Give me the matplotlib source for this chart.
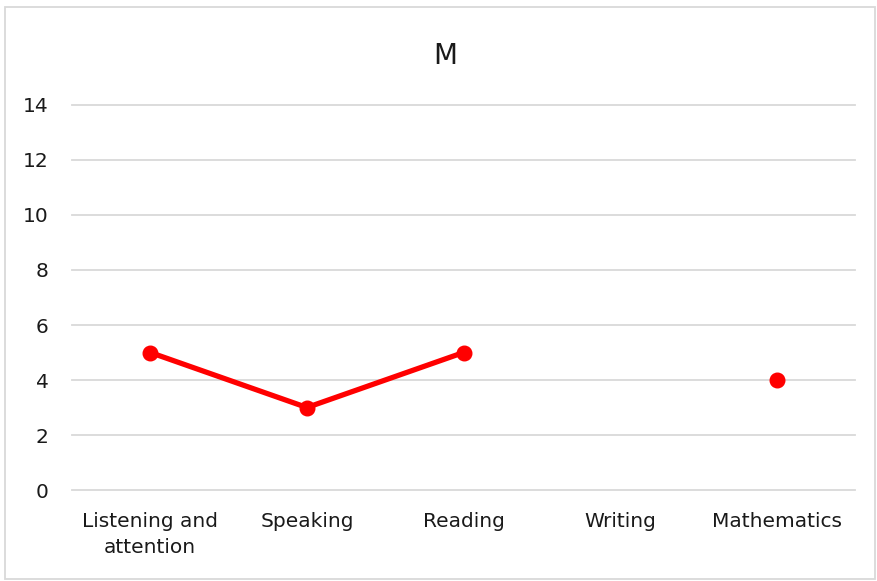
import numpy as np
import matplotlib
matplotlib.use("Agg")
from matplotlib import pyplot as plt

# scores per area for pupil M (Writing has no value)
categories = ["Listening and\nattention", "Speaking", "Reading", "Writing", "Mathematics"]
scores = [5, 3, 5, np.nan, 4]
y_ticks = [0, 2, 4, 6, 8, 10, 12, 14]

plt.rcParams['font.family'] = ['DejaVu Sans']

fig = plt.figure(figsize=(8.77, 5.81), dpi=100)
ax = fig.add_axes([0.0821, 0.1566, 0.975 - 0.0821, 0.6627])

x = np.arange(len(categories))
ax.plot(x, scores, color='#FF0000', lw=3.8, marker='o', ms=10.5,
        solid_capstyle='round', zorder=3)

ax.set_xlim(-0.5, len(categories) - 0.5)
ax.set_ylim(0, 14)
ax.set_yticks(y_ticks)
ax.set_xticks(x)
ax.set_xticklabels(categories, fontsize=14.5, color='#1a1a1a', linespacing=1.45)
ax.tick_params(axis='y', labelsize=14.5, labelcolor='#1a1a1a', length=0, pad=17)
ax.tick_params(axis='x', length=0, pad=16)
ax.grid(axis='y', color='#D9D9D9', lw=1.3)
for gl in ax.get_ygridlines():
    gl.set_clip_on(False)
ax.set_axisbelow(True)
for s in ax.spines.values():
    s.set_visible(False)

fig.text(0.508, 0.904, 'M', ha='center', va='center', fontsize=20, color='#1a1a1a')

# chart border
fig.patches.append(plt.Rectangle((0.006, 0.004), 0.992, 0.984, transform=fig.transFigure,
                                 fill=False, edgecolor='#D9D9D9', lw=1.3))

fig.savefig('out.png', dpi=100)
